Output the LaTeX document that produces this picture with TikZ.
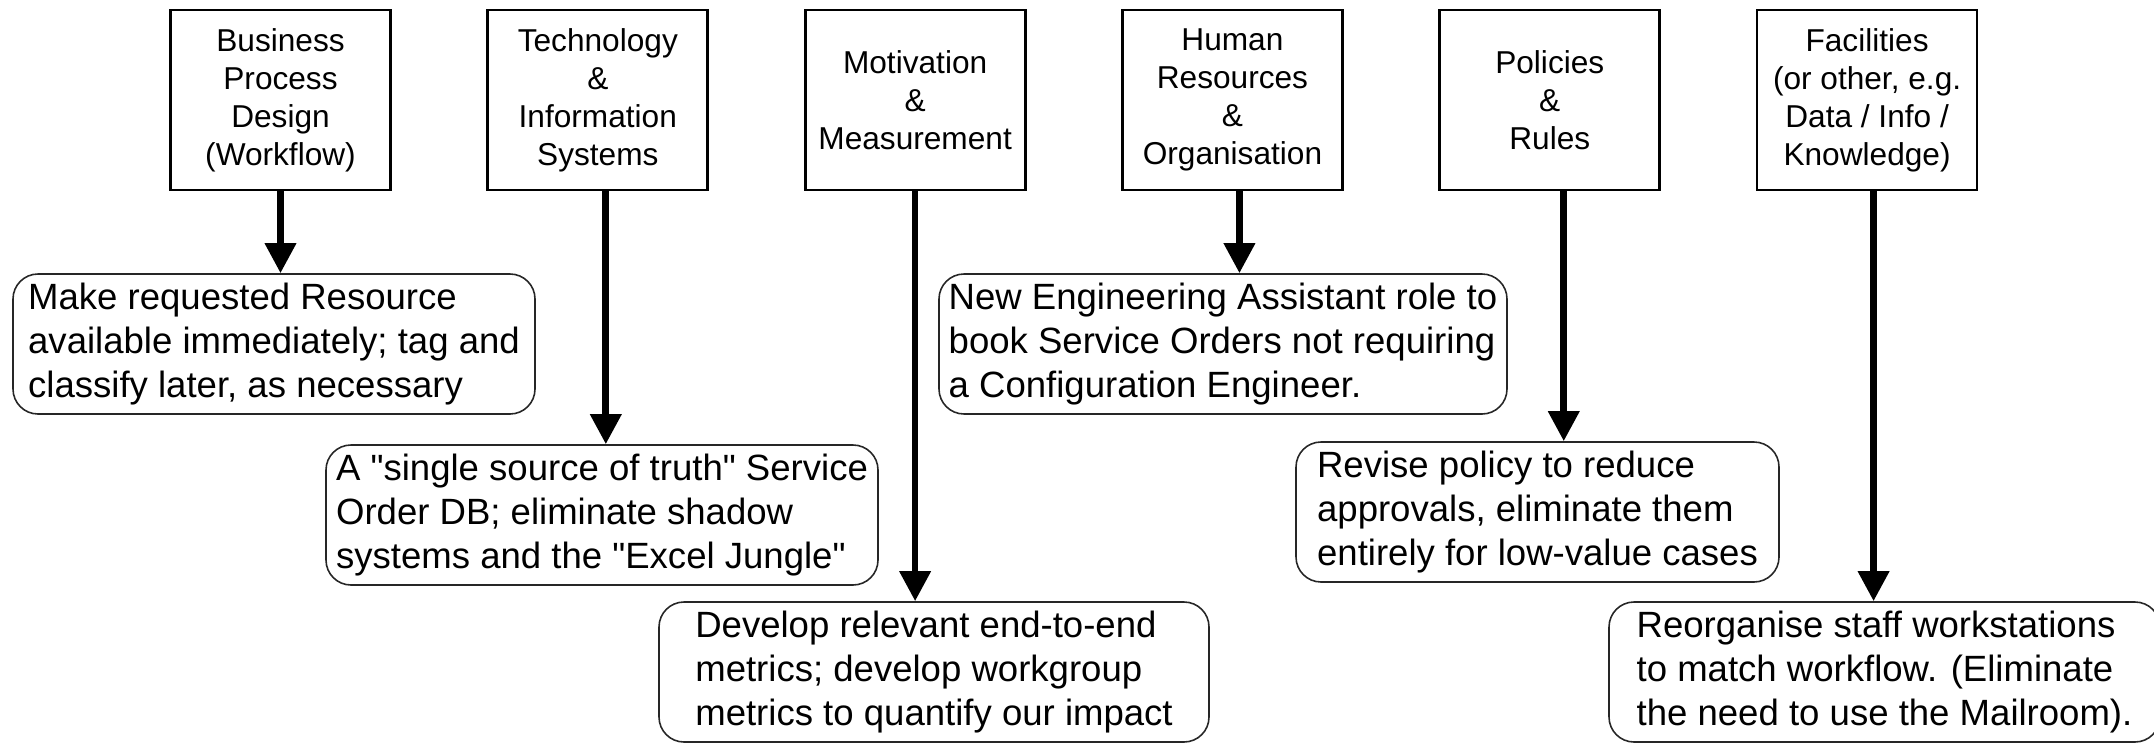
\documentclass[tikz,border=0pt]{standalone}
\usepackage{fontspec}
\setmainfont{Liberation Sans}
\usepackage{tikz}
\usetikzlibrary{arrows.meta,positioning,calc}
\tikzset{
  area/.style={draw=black,line width=0.8pt,align=center,minimum width=2.2cm,
    minimum height=1.8cm,inner sep=0pt,font=\fontsize{9}{10.8}\selectfont},
  change/.style={draw=black!85,line width=0.45pt,rounded corners=0.25cm,align=left,
    minimum height=1.4cm,inner sep=2pt,font=\fontsize{10.4}{12.5}\selectfont},
  flow/.style={-{Triangle[length=0.3cm,width=0.3cm]},line width=1.9pt}
}
\newcommand{\qq}{\textquotedbl}
\begin{document}
\begin{tikzpicture}[node distance=0.945cm]
  \useasboundingbox (0,0) rectangle (21.54,7.44);
  % improvement areas
  \node[area] (bpd) at (2.805,6.44) {Business\\Process\\Design\\(Workflow)};
  \node[area,right=of bpd] (tech) {Technology\\\&\\Information\\Systems};
  \node[area,right=of tech] (motiv) {Motivation\\\&\\Measurement};
  \node[area,right=of motiv] (hr) {Human\\Resources\\\&\\Organisation};
  \node[area,right=of hr] (policy) {Policies\\\&\\Rules};
  \node[area,right=of policy] (facil) {Facilities\\(or other, e.g.\\Data / Info /\\Knowledge)};
  % proposed changes
  \node[change,minimum width=5.22cm] (bpdc) at (2.74,4.00)
    {Make requested Resource\\available immediately; tag and\\classify later, as necessary};
  \node[change,minimum width=5.52cm] (techc) at (6.02,2.29)
    {A \qq single source of truth\qq{} Service\\Order DB; eliminate shadow\\systems and the \qq Excel Jungle\qq};
  \node[change,minimum width=5.50cm] (motivc) at (9.34,0.72)
    {Develop relevant end-to-end\\metrics; develop workgroup\\metrics to quantify our impact};
  \node[change,minimum width=5.68cm] (hrc) at (12.23,4.00)
    {New Engineering Assistant role to\\book Service Orders not requiring\\a Configuration Engineer.};
  \node[change,minimum width=4.83cm] (policyc) at (15.375,2.32)
    {Revise policy to reduce\\approvals, eliminate them\\entirely for low-value cases};
  \node[change,minimum width=5.51cm] (facilc) at (18.845,0.72)
    {Reorganise staff workstations\\to match workflow. (Eliminate\\the need to use the Mailroom).};
  \draw[flow] (bpd.south) -- (bpd.south |- bpdc.north);
  \draw[flow] ($(tech.south)+(0.08,0)$) -- ($(tech.south |- techc.north)+(0.08,0)$);
  \draw[flow] (motiv.south) -- (motiv.south |- motivc.north);
  \draw[flow] ($(hr.south)+(0.07,0)$) -- ($(hr.south |- hrc.north)+(0.07,0)$);
  \draw[flow] ($(policy.south)+(0.14,0)$) -- ($(policy.south |- policyc.north)+(0.14,0)$);
  \draw[flow] ($(facil.south)+(0.065,0)$) -- ($(facil.south |- facilc.north)+(0.065,0)$);
\end{tikzpicture}
\end{document}
